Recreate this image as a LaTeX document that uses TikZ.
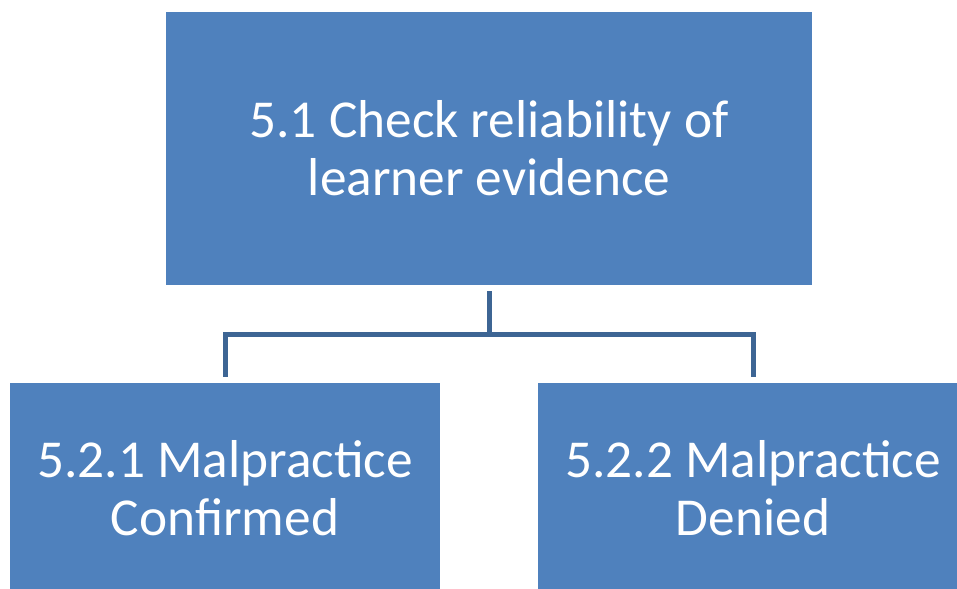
\documentclass[tikz,border=0pt]{standalone}
\usepackage{fontspec}
\setmainfont{Carlito}
\definecolor{boxblue}{HTML}{4F81BD}
\definecolor{linkblue}{HTML}{3D6594}
\begin{document}
\begin{tikzpicture}[x=0.75pt,y=-0.75pt,
  box/.style={rectangle,fill=boxblue,draw=none,text=white,align=center,inner sep=0pt,
    font=\fontsize{40pt}{43.5pt}\selectfont},
  conn/.style={draw=linkblue,line width=3.75pt,line cap=butt,line join=miter}]
\useasboundingbox (0,0) rectangle (957,589);
\begin{scope}
\clip (0,0) rectangle (957,589);
\node[box,minimum width=484.5pt,minimum height=204.75pt] (top) at (489,148.5) {5.1 Check reliability of\\learner evidence};
\node[box,minimum width=322.5pt,minimum height=157.5pt] (left) at (225,488) {5.2.1 Malpractice\\Confirmed};
\node[box,minimum width=322.5pt,minimum height=157.5pt] (right) at (753,488) {5.2.2 Malpractice\\Denied};
\coordinate (mid) at (489,334);
\draw[conn,shorten <=4.5pt,shorten >=4.5pt] (top.south) -- (mid) -| (left.north);
\draw[conn,shorten >=4.5pt] (mid) -| (right.north);
\end{scope}
\end{tikzpicture}
\end{document}
